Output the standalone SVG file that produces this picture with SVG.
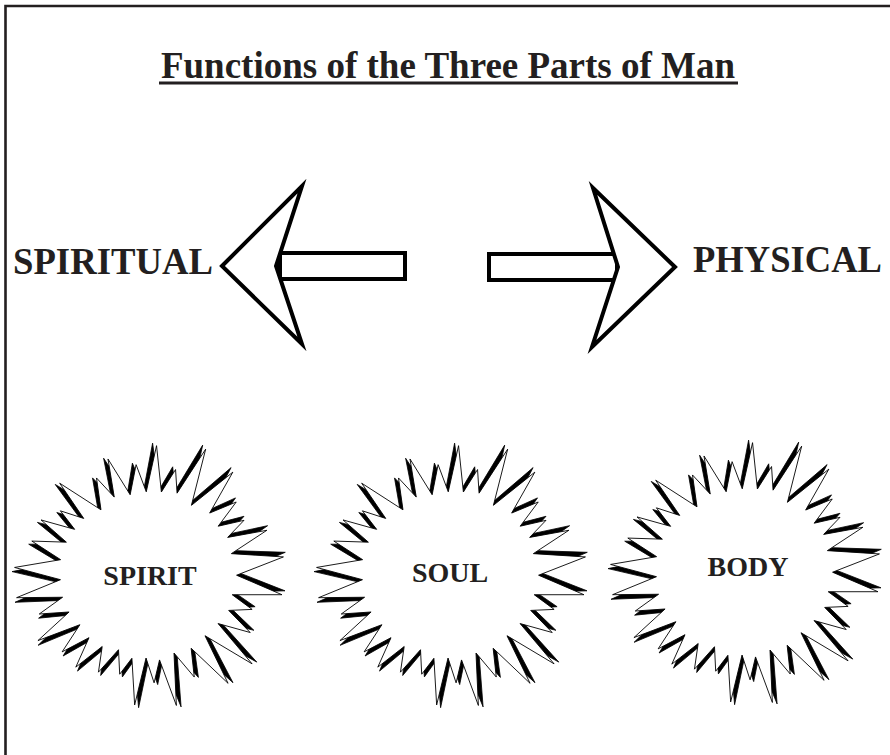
<svg xmlns="http://www.w3.org/2000/svg" xmlns:xlink="http://www.w3.org/1999/xlink" width="890" height="755" viewBox="0 0 890 755">
<style>
.lbl{font-family:"Liberation Serif","Times New Roman",serif;font-weight:bold;fill:#231f20}
.arr{fill:#fff;stroke:#000;stroke-width:4;stroke-linejoin:miter;stroke-miterlimit:10}
.starA{fill:#000;stroke:#000;stroke-width:0.8;stroke-linejoin:miter;stroke-miterlimit:12}
.starB{fill:#fff;stroke:#000;stroke-width:0.9;stroke-linejoin:miter;stroke-miterlimit:12}
</style>
<defs>
<polygon id="burst" points="4.6,-130.9 11.0,-83.9 24.7,-107.2 27.0,-83.2 54.7,-128.9 42.0,-71.3 83.1,-106.4 60.8,-64.0 87.5,-76.1 69.9,-50.9 96.0,-57.7 79.9,-39.8 119.6,-48.3 84.2,-23.4 137.3,-21.7 90.2,-1.6 137.0,16.8 86.4,18.4 107.1,32.7 83.3,34.5 105.9,56.3 72.9,48.2 108.8,88.1 60.0,61.0 85.0,108.7 46.3,74.2 50.4,103.4 29.0,79.6 33.1,132.9 14.5,87.1 9.7,110.6 0.7,85.6 -9.4,133.7 -13.7,86.3 -25.6,102.9 -27.6,78.0 -47.3,101.5 -44.3,75.3 -70.5,97.1 -58.0,66.7 -84.9,82.0 -67.7,53.8 -109.9,71.3 -79.1,41.2 -109.4,44.2 -86.2,26.4 -133.0,28.3 -88.9,8.6 -136.0,-2.4 -89.4,-11.8 -119.3,-29.8 -84.1,-29.8 -110.6,-51.6 -76.1,-43.1 -91.2,-61.5 -67.2,-54.5 -92.8,-89.6 -49.9,-63.8 -55.5,-96.1 -36.8,-77.2 -44.4,-115.8 -20.7,-80.1 -15.6,-110.9 -4.4,-83.6"/>
<g id="star">
<use xlink:href="#burst" href="#burst" class="starA"/>
<use xlink:href="#burst" href="#burst" class="starB" transform="rotate(1.8) scale(0.982)"/>
</g>
</defs>
<path d="M5.5,755 V6 H890" fill="none" stroke="#231f20" stroke-width="2.6"/>
<g id="title">
<text class="lbl" x="448" y="78" font-size="37" text-anchor="middle">Functions of the Three Parts of Man</text>
<rect x="159" y="81.5" width="579" height="3" fill="#231f20"/>
</g>
<g id="spiritual">
<text class="lbl" x="13" y="274" font-size="37" textLength="200" lengthAdjust="spacingAndGlyphs">SPIRITUAL</text>
</g>
<g id="physical">
<text class="lbl" x="693" y="272" font-size="37" textLength="189" lengthAdjust="spacingAndGlyphs">PHYSICAL</text>
</g>
<g id="connectors">
<g id="arrow-left">
<rect class="arr" x="280" y="253" width="125" height="26"/>
<polygon class="arr" points="222,266 302,186 276,266 302,344"/>
</g>
<g id="arrow-right">
<rect class="arr" x="489" y="254" width="128" height="26"/>
<polygon class="arr" points="675,267 593,188 618,267 592,347"/>
</g>
</g>
<g id="spirit">
<use xlink:href="#star" href="#star" transform="translate(148,574)"/>
<text class="lbl" x="150" y="585" font-size="28" text-anchor="middle">SPIRIT</text>
</g>
<g id="soul">
<use xlink:href="#star" href="#star" transform="translate(450,574)"/>
<text class="lbl" x="450" y="582" font-size="28" text-anchor="middle">SOUL</text>
</g>
<g id="body">
<use xlink:href="#star" href="#star" transform="translate(744,571)"/>
<text class="lbl" x="748" y="576" font-size="28" text-anchor="middle">BODY</text>
</g>
</svg>
